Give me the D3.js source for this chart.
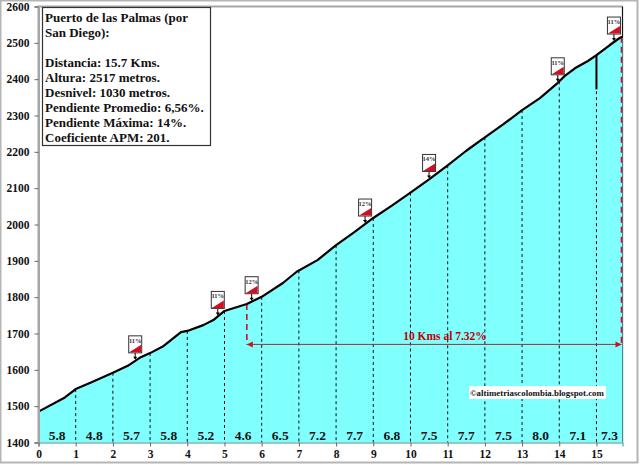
<!DOCTYPE html>
<html>
<head>
<meta charset="utf-8">
<script src="https://cdn.jsdelivr.net/npm/d3@7"></script>
<style>
    html, body { margin: 0; padding: 0; background: #fff; }
    svg { display: block; font-family: "Liberation Serif", serif; font-weight: bold; }
</style>
</head>
<body>
<script>
// profile: km, metres
const profileKm = [0, 0.71, 1, 1.41, 2, 2.4, 2.72, 3, 3.34, 3.83, 4, 4.43, 4.7, 5, 5.6, 6, 6.57, 6.94, 7.5, 8, 8.5, 9, 9.5, 10, 10.5, 11, 11.5, 12, 12.5, 13, 13.48, 13.96, 14.15, 14.42, 14.77, 15, 15.36, 15.63, 15.7];
const profileM = [1485, 1524, 1547, 1565, 1592, 1611, 1633, 1646, 1664, 1704, 1707, 1723, 1737, 1762, 1781, 1801, 1839, 1870, 1902, 1943, 1980, 2018, 2052, 2088, 2124, 2163, 2203, 2240, 2276, 2315, 2348, 2390, 2409, 2430, 2450, 2466, 2494, 2514, 2517];

const kmTicks = d3.range(0, 16);
const altTicks = d3.range(1400, 2601, 100);
const dashKm = d3.range(1, 16);

const slopes = ["5.8", "4.8", "5.7", "5.8", "5.2", "4.6", "6.5", "7.2", "7.7", "6.8", "7.5", "7.7", "7.5", "8.0", "7.1", "7.3"];

const markerKm = [2.6, 4.82, 5.73, 8.78, 10.5, 13.96, 15.47];
const markerPct = ["11%", "11%", "12%", "12%", "14%", "11%", "11%"];

const infoLines = [
    "Puerto de las Palmas (por",
    "San Diego):",
    "",
    "Distancia: 15.7 Kms.",
    "Altura:  2517 metros.",
    "Desnivel: 1030 metros.",
    "Pendiente Promedio: 6,56%.",
    "Pendiente Máxima:  14%.",
    "Coeficiente APM: 201."
];

const width = 640, height = 465;
const x = d3.scaleLinear().domain([0, 15.7]).range([38.5, 622.5]);
const y = d3.scaleLinear().domain([1400, 2600]).range([442.5, 6.5]);

const svg = d3.select("body").append("svg")
    .attr("width", width)
    .attr("height", height)
    .attr("xmlns", "http://www.w3.org/2000/svg");

// outer picture frame
svg.append("rect")
    .attr("x", 0.5).attr("y", 0.5)
    .attr("width", 637).attr("height", 462)
    .attr("fill", "#fff").attr("stroke", "#b5b5b5").attr("stroke-width", 2);

// plot frame
svg.append("path")
    .attr("d", `M${x(0)},${y(1400)}V${y(2600)}H${x(15.7)}`)
    .attr("fill", "none").attr("stroke", "#a6a6a6").attr("stroke-width", 2);
svg.append("line")
    .attr("x1", x(15.7)).attr("x2", x(15.7))
    .attr("y1", y(2600)).attr("y2", y(1400))
    .attr("stroke", "#111").attr("stroke-width", 1.2);

const points = profileKm.map((k, i) => [k, profileM[i]]);

const area = d3.area().x(d => x(d[0])).y0(y(1400)).y1(d => y(d[1]));
const line = d3.line().x(d => x(d[0])).y(d => y(d[1]));

svg.append("path").attr("d", area(points)).attr("fill", "#80ffff");

// km dashes under the curve
const altAt = d3.scaleLinear().domain(profileKm).range(profileM);
svg.append("g").selectAll("line")
    .data(dashKm)
    .enter()
    .append("line")
    .attr("x1", d => x(d)).attr("x2", d => x(d))
    .attr("y1", d => y(altAt(d))).attr("y2", y(1400))
    .attr("stroke", "#111").attr("stroke-width", 1).attr("stroke-dasharray", "3,3");

// thick bar at km 15
svg.append("line")
    .attr("x1", x(15)).attr("x2", x(15))
    .attr("y1", y(altAt(15))).attr("y2", y(2372))
    .attr("stroke", "#000").attr("stroke-width", 2);

// red 10 km bracket
const bracketKm = [5.6, 15.7];
const bracketAlt = 1670;
svg.append("g").selectAll("line")
    .data(bracketKm)
    .enter()
    .append("line")
    .attr("x1", d => x(d) - (d === 15.7 ? 1 : 0)).attr("x2", d => x(d) - (d === 15.7 ? 1 : 0))
    .attr("y1", d => y(altAt(d))).attr("y2", y(bracketAlt))
    .attr("stroke", "#c8102e").attr("stroke-width", 1.6).attr("stroke-dasharray", "6,4");
svg.append("line")
    .attr("x1", x(5.6)).attr("x2", x(15.7) - 1)
    .attr("y1", y(bracketAlt)).attr("y2", y(bracketAlt))
    .attr("stroke", "#a03030").attr("stroke-width", 1);
svg.append("path")
    .attr("d", `M${x(5.6)},${y(bracketAlt)}l6,-3v6z`)
    .attr("fill", "#d01020");
svg.append("path")
    .attr("d", `M${x(15.7) - 1},${y(bracketAlt)}l-6,-3v6z`)
    .attr("fill", "#d01020");
svg.append("text")
    .attr("x", 445).attr("y", 340)
    .attr("text-anchor", "middle")
    .attr("font-size", 11.5).attr("fill", "#c00000")
    .text("10 Kms al 7.32%");

// the profile itself
svg.append("path")
    .attr("d", line(points))
    .attr("fill", "none").attr("stroke", "#000").attr("stroke-width", 2.2)
    .attr("stroke-linejoin", "round");

// km slopes along the floor
svg.append("g").selectAll("text")
    .data(slopes)
    .enter()
    .append("text")
    .attr("x", (d, i) => x((i + Math.min(i + 1, 15.7)) / 2))
    .attr("y", 440)
    .attr("text-anchor", "middle")
    .attr("font-size", 13.5).attr("fill", "#111")
    .text(d => d);

// axes
const yAxis = d3.axisLeft(y).tickValues(altTicks).tickSize(4).tickPadding(5).tickFormat(d3.format("d"));
const xAxis = d3.axisBottom(x).tickValues(kmTicks).tickSize(4).tickPadding(3).tickFormat(d3.format("d"));

const gy = svg.append("g").attr("transform", `translate(${x(0)},0)`).call(yAxis);
const gx = svg.append("g").attr("transform", `translate(0,${y(1400)})`).call(xAxis);
gx.select(".domain").attr("stroke", "#7fb5b5").attr("stroke-width", 1.5);
gy.select(".domain").attr("stroke", "#a6a6a6").attr("stroke-width", 2);
gy.selectAll(".tick line").attr("stroke", "#666");
gx.selectAll(".tick line").attr("stroke", "#666");
[gx, gy].forEach(g => g.selectAll(".tick text")
    .attr("font-family", "Liberation Serif")
    .attr("font-weight", "bold")
    .attr("font-size", 11.5)
    .attr("fill", "#111"));

// gradient flags
const flags = svg.append("g").selectAll("g")
    .data(markerKm)
    .enter()
    .append("g")
    .attr("transform", d => `translate(${x(d)},${y(altAt(d))})`);
flags.append("line")
    .attr("x1", 0).attr("x2", 0).attr("y1", -8).attr("y2", -3)
    .attr("stroke", "#000").attr("stroke-width", 1);
flags.append("path").attr("d", "M0,-1l-2,-3h4z").attr("fill", "#000");
flags.append("rect")
    .attr("x", -6.5).attr("y", -25)
    .attr("width", 13).attr("height", 17)
    .attr("fill", "#fff").attr("stroke", "#333").attr("stroke-width", 1);
flags.append("path")
    .attr("d", "M-6,-8.5L6,-16V-8.5Z")
    .attr("fill", "#d01020");
flags.append("text")
    .attr("x", 0).attr("y", -18)
    .attr("text-anchor", "middle")
    .attr("font-size", 6.5).attr("fill", "#333")
    .text((d, i) => markerPct[i]);

// info box
svg.append("rect")
    .attr("x", 42.5).attr("y", 7.5)
    .attr("width", 168).attr("height", 138)
    .attr("fill", "#fff").attr("stroke", "#333").attr("stroke-width", 1.2);
svg.append("g").selectAll("text")
    .data(infoLines)
    .enter()
    .append("text")
    .attr("x", 45)
    .attr("y", (d, i) => 22 + i * 15)
    .attr("font-size", 13).attr("fill", "#111")
    .text(d => d);

// credit
svg.append("rect")
    .attr("x", 469).attr("y", 386)
    .attr("width", 137).attr("height", 13)
    .attr("fill", "#fff");
svg.append("text")
    .attr("x", 470).attr("y", 396)
    .attr("font-size", 8.85).attr("fill", "#111")
    .text("©altimetriascolombia.blogspot.com");
</script>
</body>
</html>
